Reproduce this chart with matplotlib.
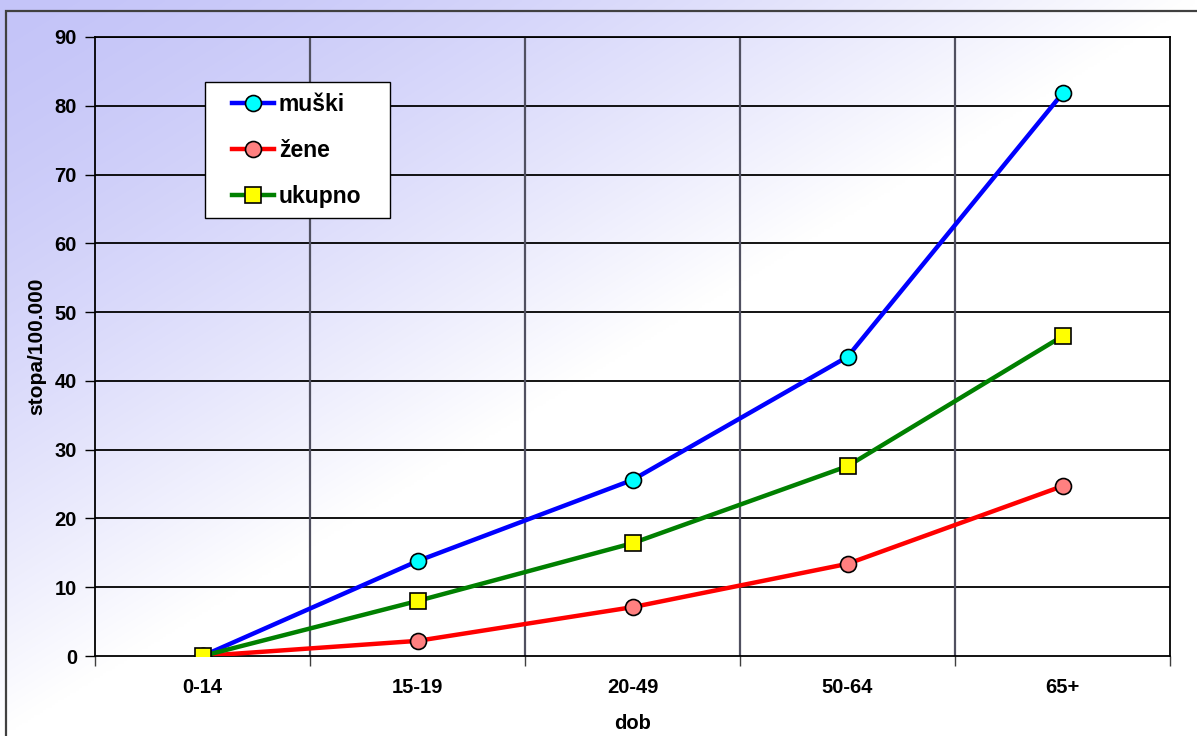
import numpy as np
import matplotlib
matplotlib.use("Agg")
import matplotlib.pyplot as plt
from matplotlib.patches import Rectangle

# Age groups and rates per 100,000
categories = ["0-14", "15-19", "20-49", "50-64", "65+"]
muski = [0.0, 13.8, 25.6, 43.5, 81.8]
zene = [0.0, 2.2, 7.1, 13.4, 24.7]
ukupno = [0.0, 8.0, 16.4, 27.6, 46.5]
y_ticks = [0, 10, 20, 30, 40, 50, 60, 70, 80, 90]

plt.rcParams["font.family"] = ["Liberation Sans", "DejaVu Sans"]
plt.rcParams["font.weight"] = "bold"

W, H = 1197, 736
fig = plt.figure(figsize=(W / 100, H / 100), dpi=100)

# Diagonal gradient for the chart background (lavender top-left -> white)
bg = fig.add_axes([0, 0, 1, 1], zorder=-10)
xx, yy = np.meshgrid(np.linspace(0, 1, 400), np.linspace(0, 1, 300))
s = np.clip(xx + yy, 0, 1) ** 1.5
r = (196 + (255 - 196) * s) / 255
g = r
b = (248 + (255 - 248) * s) / 255
img = np.dstack([r, g, b])
bg.imshow(img, extent=[0, 1, 1, 0], aspect="auto", interpolation="bilinear")
bg.set_xlim(0, 1)
bg.set_ylim(1, 0)
bg.axis("off")
# Chart area border (only left and top edges fall inside the image)
bg.add_patch(Rectangle((6 / W, -0.5), 1.2, 1.5 - 11 / H, fill=False,
                       edgecolor="#404040", linewidth=1.6,
                       transform=bg.transAxes))

AX_L, AX_R, AX_T, AX_B = 95, 1170, 37, 656
ax = fig.add_axes([AX_L / W, 1 - AX_B / H, (AX_R - AX_L) / W, (AX_B - AX_T) / H])
ax.patch.set_alpha(0)


def px_to_axes(px, py):
    return (px - AX_L) / (AX_R - AX_L), (AX_B - py) / (AX_B - AX_T)


x = np.arange(len(categories))
ax.plot(x, muski, color="#0000FF", lw=3.2, marker="o", ms=11.5,
        mfc="#00FFFF", mec="black", mew=1.2, label="muški", zorder=3)
ax.plot(x, zene, color="#FF0000", lw=3.2, marker="o", ms=11.5,
        mfc="#FF8080", mec="black", mew=1.2, label="žene", zorder=3)
ax.plot(x, ukupno, color="#008000", lw=3.2, marker="s", ms=11.5,
        mfc="#FFFF00", mec="black", mew=1.2, label="ukupno", zorder=3)

ax.set_xlim(-0.5, len(categories) - 0.5)
ax.set_ylim(0, 90)
ax.set_yticks(y_ticks)
ax.set_yticklabels([str(v) for v in y_ticks], fontsize=14.5, fontweight="bold")

# Category labels centred, tick marks on the boundaries
ax.set_xticks(x)
ax.set_xticklabels(categories, fontsize=14.5, fontweight="bold")
ax.tick_params(axis="x", length=0, pad=16)
bounds = np.arange(len(categories) + 1) - 0.5
ax.set_xticks(bounds, minor=True)
ax.tick_params(axis="x", which="minor", length=7, width=1, direction="out",
               color="#404040")
ax.tick_params(axis="y", length=7, width=1, direction="out", pad=6)

for v in y_ticks[1:]:
    ax.axhline(v, color="black", lw=1.3, zorder=1)
for bx in bounds[1:-1]:
    ax.axvline(bx, color="#505060", lw=1.6, zorder=1)

for sp in ax.spines.values():
    sp.set_color("black")
    sp.set_linewidth(1.3)

ax.set_ylabel("stopa/100.000", fontsize=15, fontweight="bold", labelpad=6)
ax.set_xlabel("dob", fontsize=14.5, fontweight="bold", labelpad=12)

# Legend box drawn separately, entries placed inside it
lx0, ly0 = px_to_axes(205, 218)
lx1, ly1 = px_to_axes(390, 82)
ax.add_patch(Rectangle((lx0, ly0), lx1 - lx0, ly1 - ly0, transform=ax.transAxes,
                       facecolor="white", edgecolor="black", lw=1.0, zorder=4))
ax_anchor = px_to_axes(232, 93)
leg = ax.legend(loc="upper left", bbox_to_anchor=ax_anchor,
                fontsize=16.5, frameon=False,
                handlelength=1.85, labelspacing=1.0, borderpad=0,
                handletextpad=0.2, borderaxespad=0)
leg.set_zorder(5)
for t in leg.get_texts():
    t.set_fontweight("bold")

fig.savefig("out.png", dpi=100)
